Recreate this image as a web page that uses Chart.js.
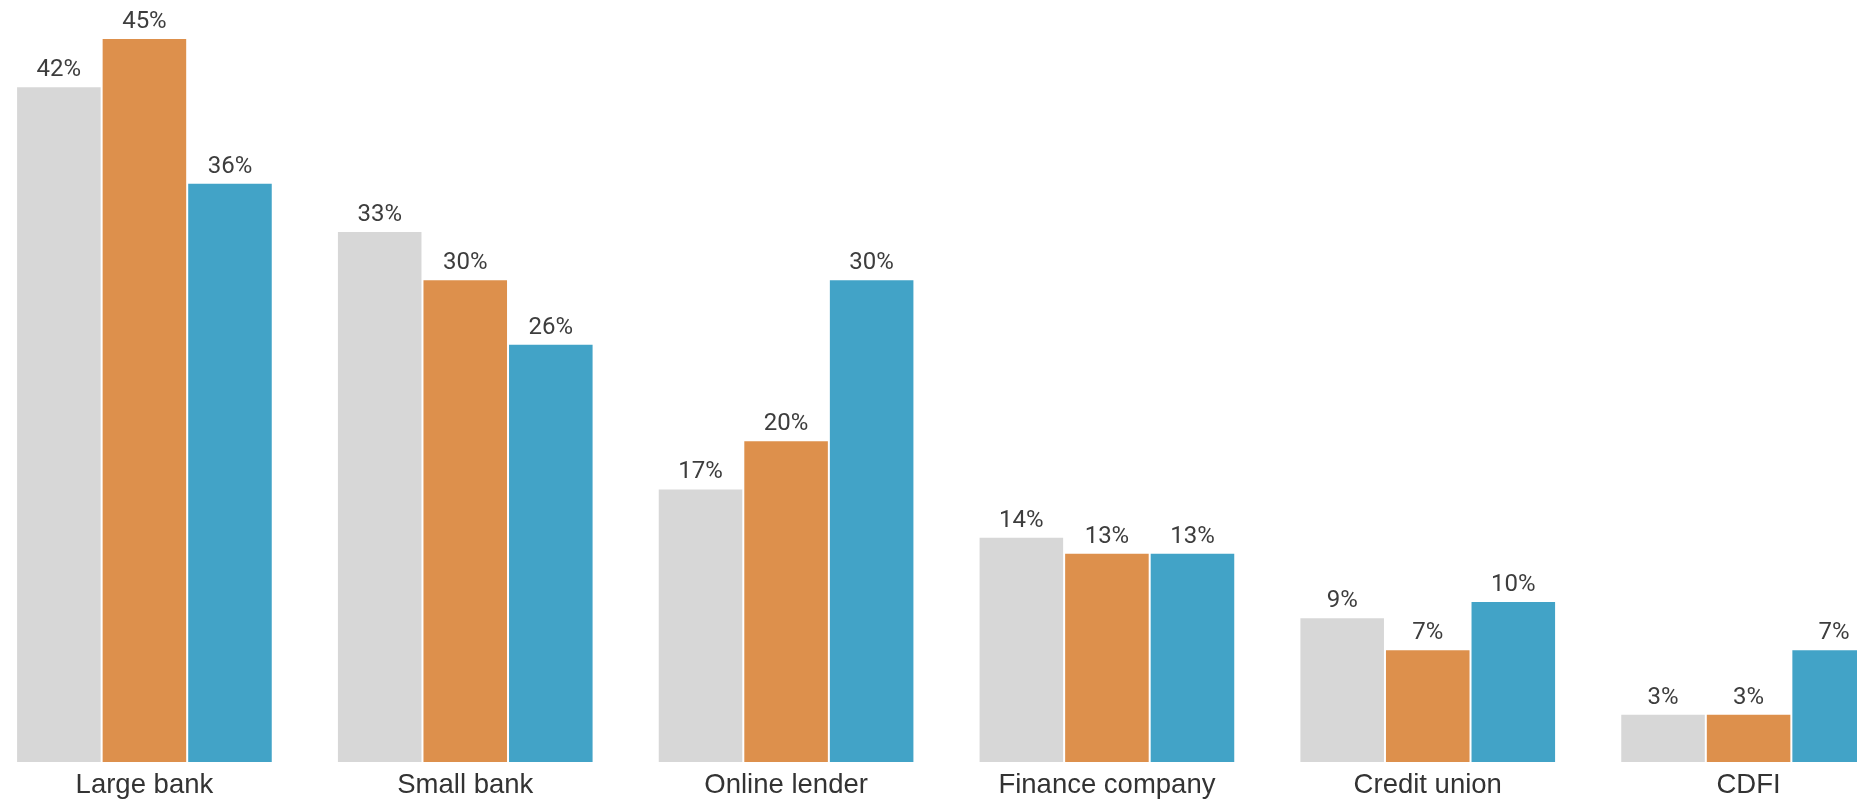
<!DOCTYPE html>
<html>
<head>
<meta charset="utf-8">
<script src="https://cdn.jsdelivr.net/npm/chart.js@4/dist/chart.umd.min.js"></script>
<style>
  html, body { margin: 0; padding: 0; background: #fff; overflow: hidden; }
  #wrap { position: absolute; left: -16px; top: 0; width: 1925px; height: 799px; }
</style>
</head>
<body>
<div id="wrap"><canvas id="barChart"></canvas></div>
<script>
const categories = ["Large bank", "Small bank", "Online lender", "Finance company", "Credit union", "CDFI"];
const seriesNames = ["Series 1", "Series 2", "Series 3"];
const series1 = [42, 33, 17, 14, 9, 3];
const series2 = [45, 30, 20, 13, 7, 3];
const series3 = [36, 26, 30, 13, 10, 7];
const colors = ["#d7d7d7", "#dd904c", "#42a3c7"];

// value labels above each bar
const valueLabels = {
  id: "valueLabels",
  afterDatasetsDraw(chart) {
    const ctx = chart.ctx;
    ctx.save();
    ctx.font = "24px Roboto";
    ctx.fillStyle = "#3d3d3d";
    ctx.textAlign = "center";
    ctx.textBaseline = "alphabetic";
    chart.data.datasets.forEach((ds, i) => {
      chart.getDatasetMeta(i).data.forEach((bar, j) => {
        ctx.fillText(ds.data[j] + "%", bar.x, bar.y - 10);
      });
    });
    ctx.restore();
  }
};

const ctx = document.getElementById("barChart");

new Chart(ctx, {
  type: "bar",
  data: {
    labels: categories,
    datasets: [series1, series2, series3].map((d, i) => ({
      label: seriesNames[i],
      data: d,
      backgroundColor: colors[i],
      borderColor: "rgba(255,255,255,0.7)",
      borderWidth: 1,
      barPercentage: 1.0,
      categoryPercentage: 0.8
    }))
  },
  options: {
    responsive: true,
    maintainAspectRatio: false,
    animation: false,
    layout: { padding: 0 },
    plugins: {
      legend: { display: false },
      tooltip: { enabled: false }
    },
    scales: {
      x: {
        grid: { display: false, drawTicks: false },
        border: { display: false },
        ticks: {
          color: "#333",
          font: { family: "Liberation Sans", size: 27.5 },
          padding: 7,
          maxRotation: 0,
          autoSkip: false
        },
        afterFit(scale) { scale.height = 37; }
      },
      y: {
        display: false,
        min: 0,
        max: 47.36
      }
    }
  },
  plugins: [valueLabels]
});
</script>
</body>
</html>
